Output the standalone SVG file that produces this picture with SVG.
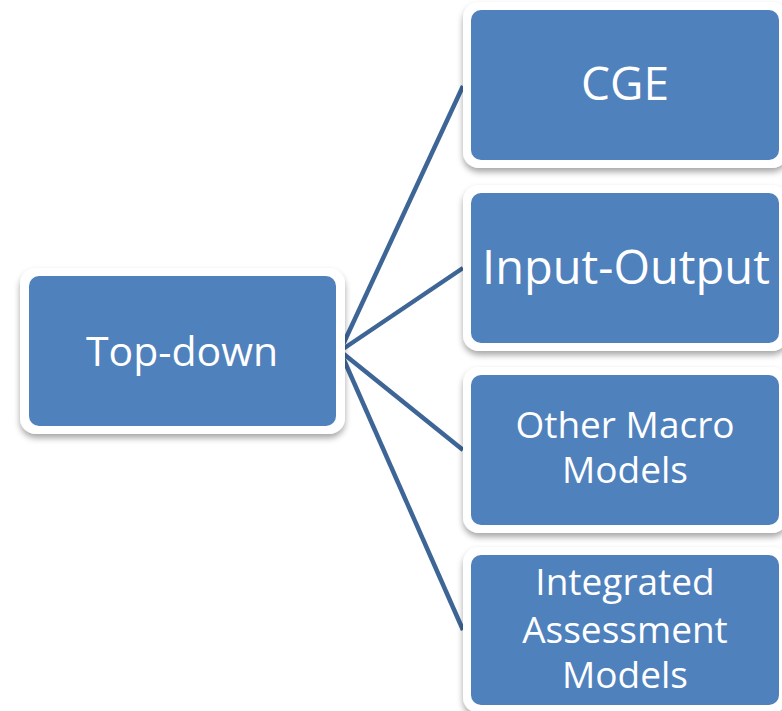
<svg xmlns="http://www.w3.org/2000/svg" width="782" height="711" viewBox="0 0 782 711">
<defs>
<filter id="sh" x="-10%" y="-10%" width="120%" height="130%">
<feDropShadow dx="0" dy="4" stdDeviation="3" flood-color="#000" flood-opacity="0.35"/>
</filter>
<style>
.frame{fill:#fff;filter:url(#sh)}
.box{fill:#4f81bd}
.t{fill:#fff;font-family:"Open Sans","Noto Sans",sans-serif;text-anchor:middle}
.edge{stroke:#3d6596;stroke-width:4.5;fill:none}
</style>
</defs>
<rect width="782" height="711" fill="#fff"/>
<g id="connectors">
<line class="edge" x1="340" y1="351" x2="463" y2="86"/>
<line class="edge" x1="340" y1="351" x2="463" y2="268"/>
<line class="edge" x1="340" y1="351" x2="463" y2="450"/>
<line class="edge" x1="340" y1="351" x2="463" y2="630"/>
</g>
<g id="top-down">
<rect class="frame" x="20" y="268" width="325" height="166" rx="16"/>
<rect class="box" x="29" y="276" width="307" height="150" rx="10"/>
<text class="t" x="182" y="366" font-size="41">Top-down</text>
</g>
<g id="cge">
<rect class="frame" x="463" y="2" width="325" height="166" rx="16"/>
<rect class="box" x="471" y="10" width="308" height="150" rx="10"/>
<text class="t" x="625" y="100" font-size="46">CGE</text>
</g>
<g id="input-output">
<rect class="frame" x="463" y="185" width="325" height="166" rx="16"/>
<rect class="box" x="471" y="193" width="308" height="150" rx="10"/>
<text class="t" x="626" y="284" font-size="47">Input-Output</text>
</g>
<g id="other-macro">
<rect class="frame" x="463" y="367" width="325" height="166" rx="16"/>
<rect class="box" x="471" y="375" width="308" height="150" rx="10"/>
<text class="t" x="625" y="438" font-size="37">Other Macro</text>
<text class="t" x="625" y="483" font-size="37">Models</text>
</g>
<g id="iam">
<rect class="frame" x="463" y="547" width="325" height="166" rx="16"/>
<rect class="box" x="471" y="555" width="308" height="150" rx="10"/>
<text class="t" x="625" y="595" font-size="37">Integrated</text>
<text class="t" x="625" y="643" font-size="37">Assessment</text>
<text class="t" x="625" y="688" font-size="37">Models</text>
</g>
</svg>
